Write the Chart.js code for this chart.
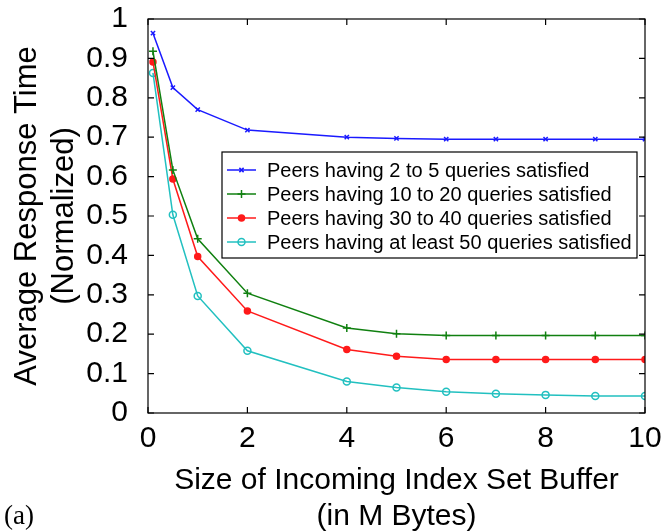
<!DOCTYPE html>
<html>
<head>
<meta charset="utf-8">
<script src="https://cdn.jsdelivr.net/npm/chart.js@4.4.0/dist/chart.umd.min.js"></script>
<style>
  html, body { margin: 0; padding: 0; background: #fff; }
  #wrap { width: 666px; height: 532px; }
</style>
</head>
<body>
<div id="wrap"><canvas id="chart" width="666" height="532"></canvas></div>
<script>
// buffer sizes (M Bytes)
const bufferSizes = [0.1, 0.5, 1, 2, 4, 5, 6, 7, 8, 9, 10];

const peers2to5 = [0.964, 0.826, 0.770, 0.718, 0.700, 0.697, 0.695, 0.695, 0.695, 0.695, 0.695];
const peers10to20 = [0.918, 0.617, 0.442, 0.304, 0.216, 0.201, 0.197, 0.197, 0.197, 0.197, 0.197];
const peers30to40 = [0.891, 0.594, 0.397, 0.259, 0.161, 0.144, 0.136, 0.136, 0.136, 0.136, 0.136];
const peersAtLeast50 = [0.863, 0.503, 0.297, 0.158, 0.080, 0.065, 0.054, 0.049, 0.046, 0.043, 0.043];

const seriesLabels = [
  'Peers having 2 to 5 queries satisfied',
  'Peers having 10 to 20 queries satisfied',
  'Peers having 30 to 40 queries satisfied',
  'Peers having at least 50 queries satisfied'
];

const xTicks = [0, 2, 4, 6, 8, 10];
const yTicks = [0, 0.1, 0.2, 0.3, 0.4, 0.5, 0.6, 0.7, 0.8, 0.9, 1];

const FONT = "'Liberation Sans', Arial, sans-serif";

function toPoints(ys) {
  return ys.map((y, i) => ({ x: bufferSizes[i], y: y }));
}

function series(label, ys, color, style, radius, fill) {
  return {
    label: label,
    data: toPoints(ys),
    borderColor: color,
    backgroundColor: fill,
    pointBorderColor: color,
    pointBackgroundColor: fill,
    pointStyle: style,
    pointRadius: radius,
    pointBorderWidth: 1.5,
    borderWidth: 1.5,
    tension: 0
  };
}

// box around the plot, inward ticks on all four sides
const frame = {
  id: 'frame',
  afterDraw(chart) {
    const ctx = chart.ctx;
    const a = chart.chartArea;
    const xs = chart.scales.x, ys = chart.scales.y;
    const tl = 6;
    ctx.save();
    ctx.strokeStyle = '#000';
    ctx.lineWidth = 1.2;
    ctx.strokeRect(a.left, a.top, a.right - a.left, a.bottom - a.top);
    ctx.beginPath();
    xTicks.forEach(v => {
      const px = xs.getPixelForValue(v);
      ctx.moveTo(px, a.bottom); ctx.lineTo(px, a.bottom - tl);
      ctx.moveTo(px, a.top); ctx.lineTo(px, a.top + tl);
    });
    yTicks.forEach(v => {
      const py = ys.getPixelForValue(v);
      ctx.moveTo(a.left, py); ctx.lineTo(a.left + tl, py);
      ctx.moveTo(a.right, py); ctx.lineTo(a.right - tl, py);
    });
    ctx.stroke();

    // (a) panel label
    ctx.fillStyle = '#000';
    ctx.font = "27px 'Liberation Serif', 'Times New Roman', serif";
    ctx.textAlign = 'left';
    ctx.textBaseline = 'alphabetic';
    ctx.fillText('(a)', 4, 524);
    ctx.restore();
  }
};

// legend box inside the plot
const boxLegend = {
  id: 'boxLegend',
  afterDraw(chart) {
    const ctx = chart.ctx;
    const left = 222, top = 152, right = 637, bottom = 258;
    const rowY = [170, 194, 218, 242];
    ctx.save();
    ctx.fillStyle = '#fff';
    ctx.fillRect(left, top, right - left, bottom - top);
    ctx.strokeStyle = '#000';
    ctx.lineWidth = 1.2;
    ctx.strokeRect(left, top, right - left, bottom - top);
    ctx.font = '20px ' + FONT;
    ctx.textBaseline = 'middle';
    ctx.textAlign = 'left';
    chart.data.datasets.forEach((ds, i) => {
      const y = rowY[i];
      ctx.strokeStyle = ds.borderColor;
      ctx.lineWidth = 1.5;
      ctx.beginPath();
      ctx.moveTo(227, y); ctx.lineTo(256, y);
      ctx.stroke();
      ctx.fillStyle = ds.pointBackgroundColor;
      Chart.helpers.drawPoint(ctx, {
        pointStyle: ds.pointStyle,
        radius: ds.pointRadius,
        borderWidth: ds.pointBorderWidth,
        rotation: 0
      }, 241.5, y);
      ctx.fillStyle = '#000';
      ctx.fillText(ds.label, 267, y + 1);
    });
    ctx.restore();
  }
};

function initChart() {
  const ctx = document.getElementById('chart').getContext('2d');
  new Chart(ctx, {
    type: 'line',
    data: {
      datasets: [
        series(seriesLabels[0], peers2to5, '#1a1aff', 'crossRot', 3, '#1a1aff'),
        series(seriesLabels[1], peers10to20, '#108010', 'cross', 4, '#108010'),
        series(seriesLabels[2], peers30to40, '#ff1a1a', 'circle', 3, '#ff1a1a'),
        series(seriesLabels[3], peersAtLeast50, '#22c0c0', 'circle', 3.5, 'rgba(0,0,0,0)')
      ]
    },
    options: {
      responsive: false,
      animation: false,
      layout: { padding: { top: 19, right: 21, left: 0, bottom: 0 } },
      plugins: {
        legend: { display: false },
        tooltip: { enabled: false }
      },
      scales: {
        x: {
          type: 'linear',
          min: 0,
          max: 10,
          afterBuildTicks: s => { s.ticks = xTicks.map(v => ({ value: v })); },
          afterFit: s => { s.height = 119; s.paddingLeft = 0; s.paddingRight = 0; },
          grid: { display: false, drawTicks: false },
          border: { display: false },
          ticks: {
            color: '#000',
            padding: 8,
            maxRotation: 0,
            autoSkip: false,
            font: { family: FONT, size: 30 }
          },
          title: {
            display: true,
            text: ['Size of Incoming Index Set Buffer', '(in M Bytes)'],
            color: '#000',
            font: { family: FONT, size: 30 },
            padding: { top: 0, bottom: -3 }
          }
        },
        y: {
          min: 0,
          max: 1,
          afterBuildTicks: s => { s.ticks = yTicks.map(v => ({ value: v })); },
          afterFit: s => { s.width = 148; s.paddingTop = 0; s.paddingBottom = 0; },
          grid: { display: false, drawTicks: false },
          border: { display: false },
          ticks: {
            color: '#000',
            padding: 20,
            autoSkip: false,
            font: { family: FONT, size: 30 },
            callback: v => String(Math.round(v * 10) / 10)
          },
          title: {
            display: true,
            text: ['Average Response Time', '(Normalized)'],
            color: '#000',
            font: { family: FONT, size: 31 },
            padding: { top: 9, bottom: 0 }
          }
        }
      }
    },
    plugins: [frame, boxLegend]
  });
}

document.addEventListener('DOMContentLoaded', function() {
  initChart();
});
</script>
</body>
</html>
